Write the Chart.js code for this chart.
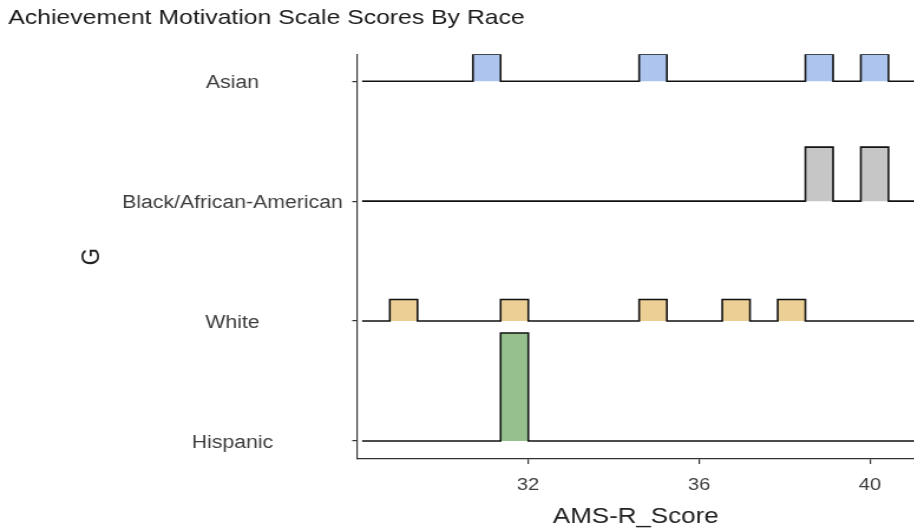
<!DOCTYPE html>
<html>
<head>
<meta charset="utf-8">
<title>Achievement Motivation Scale Scores By Race</title>
<script src="https://cdn.jsdelivr.net/npm/chart.js@4.4.1/dist/chart.umd.min.js"></script>
<style>
    html, body { margin: 0; padding: 0; background: #ffffff; overflow: hidden; }
    /* the plot is laid out narrow and widened a little, like the exported figure */
    #wrap { width: 775px; height: 531px; transform: scaleX(1.18); transform-origin: 0 0; }
    #ridges { display: block; }
</style>
</head>
<body>
<div id="wrap"><canvas id="ridges" width="775" height="531"></canvas></div>
<script>
// rows from bottom to top
const races = ['Hispanic', 'White', 'Black/African-American', 'Asian'];

const hispanicScores = [32];
const whiteScores = [29, 32, 35, 37, 38];
const blackScores = [39, 40];
const asianScores = [31, 35, 39, 40];

const fillColors = ['#96c18e', '#ebcf94', '#c6c6c6', '#adc5ee'];

// histogram bins shared by every ridge
const binStart = 28.12;
const binWidth = 0.648;
const binCount = 30;
const ridgeScale = 0.9;

const xBreaks = [32, 36, 40];

const FONT = 'Liberation Sans, Arial, Helvetica, sans-serif';

function binCounts(scores) {
    const counts = new Array(binCount).fill(0);
    scores.forEach(s => {
        const k = Math.floor((s - binStart) / binWidth);
        if (k >= 0 && k < binCount) counts[k]++;
    });
    return counts;
}

const groups = [hispanicScores, whiteScores, blackScores, asianScores];
const shares = groups.map(scores => binCounts(scores).map(c => c / scores.length));
const maxShare = Math.max(...shares.map(s => Math.max(...s)));

// step outline of a histogram sitting on its row
function outline(share, base) {
    const pts = [{ x: binStart, y: base }];
    share.forEach((v, k) => {
        const h = base + ridgeScale * v / maxShare;
        pts.push({ x: binStart + k * binWidth, y: h });
        pts.push({ x: binStart + (k + 1) * binWidth, y: h });
    });
    pts.push({ x: binStart + binCount * binWidth, y: base });
    return pts;
}

const datasets = races.map((race, i) => ({
    label: race,
    data: outline(shares[i], i + 1),
    borderColor: '#111111',
    borderWidth: 1.6,
    borderJoinStyle: 'miter',
    backgroundColor: fillColors[i],
    fill: { value: i + 1 },
    pointRadius: 0,
    tension: 0
}));

new Chart(document.getElementById('ridges').getContext('2d'), {
    type: 'line',
    data: { datasets: datasets },
    options: {
        responsive: false,
        animation: false,
        devicePixelRatio: 1,
        layout: { padding: { left: 7, right: 0, top: 0, bottom: 0 } },
        plugins: {
            legend: { display: false },
            tooltip: { enabled: false },
            title: {
                display: true,
                text: 'Achievement Motivation Scale Scores By Race',
                align: 'start',
                color: '#1a1a1a',
                font: { family: FONT, size: 21, weight: 'normal' },
                padding: { top: 6, bottom: 23 }
            }
        },
        scales: {
            x: {
                type: 'linear',
                min: 28,
                max: 41.04,
                afterBuildTicks: scale => { scale.ticks = xBreaks.map(v => ({ value: v })); },
                afterFit: scale => { scale.height = 72; },
                border: { display: true, color: '#333333', width: 1.2 },
                grid: { drawOnChartArea: false, drawTicks: true, tickLength: 5, color: '#333333', lineWidth: 1.2 },
                ticks: {
                    color: '#3d3d3d',
                    padding: 11,
                    maxRotation: 0,
                    font: { family: FONT, size: 17 }
                },
                title: {
                    display: true,
                    text: 'AMS-R_Score',
                    color: '#222222',
                    font: { family: FONT, size: 22 },
                    padding: { top: 0, bottom: 1 }
                }
            },
            y: {
                type: 'linear',
                min: 0.85,
                max: 4.225,
                afterBuildTicks: scale => { scale.ticks = races.map((r, i) => ({ value: i + 1 })); },
                afterFit: scale => { scale.width = 295.5; },
                border: { display: true, color: '#333333', width: 1.2 },
                grid: { drawOnChartArea: false, drawTicks: true, tickLength: 4, color: '#333333', lineWidth: 1.2 },
                ticks: {
                    color: '#3d3d3d',
                    padding: 8,
                    crossAlign: 'center',
                    labelOffset: 2,
                    font: { family: FONT, size: 18 },
                    callback: value => races[value - 1]
                },
                title: {
                    display: true,
                    text: 'G',
                    color: '#222222',
                    font: { family: FONT, size: 22 },
                    padding: { top: 58, bottom: 0 }
                }
            }
        }
    }
});
</script>
</body>
</html>
